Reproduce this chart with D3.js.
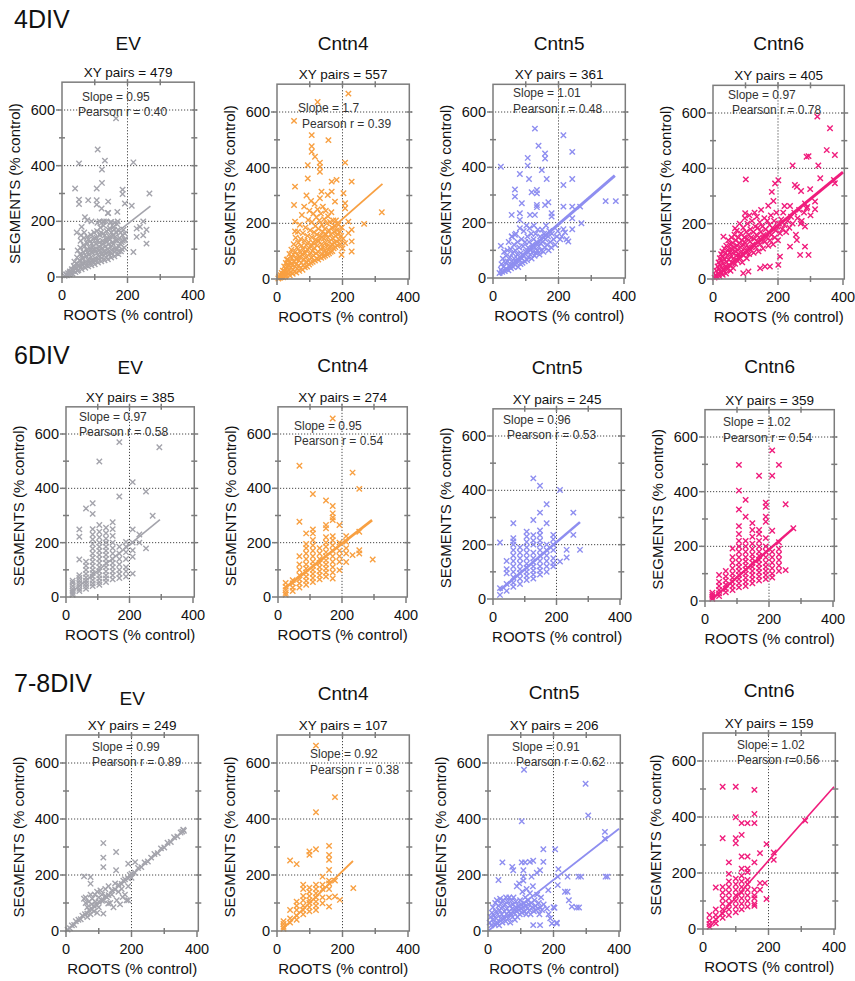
<!DOCTYPE html>
<html>
<head>
<meta charset="utf-8">
<script src="https://cdn.jsdelivr.net/npm/d3@7"></script>
<style>
  body { margin: 0; background: #fff; }
  svg { display: block; }
  text { font-family: "Liberation Sans", Arial, sans-serif; }
</style>
</head>
<body>
<svg id="chart" width="855" height="981"></svg>
<script>
// ---- labels and stats ----
var rowLabels = ["4DIV", "6DIV", "7-8DIV"];
var groups = ["EV", "Cntn4", "Cntn5", "Cntn6"];
var pairs = [[479, 557, 361, 405], [385, 274, 245, 359], [249, 107, 206, 159]];
var slopes = [["Slope = 0.95", "Slope = 1.7", "Slope = 1.01", "Slope = 0.97"],
              ["Slope = 0.97", "Slope = 0.95", "Slope =  0.96", "Slope = 1.02"],
              ["Slope = 0.99", "Slope = 0.92", "Slope = 0.91", "Slope = 1.02"]];
var pearsons = [["Pearson r = 0.40", "Pearson r = 0.39", "Pearson r = 0.48", "Pearson r = 0.78"],
                ["Pearson r = 0.58", "Pearson r = 0.54", "Pearson r = 0.53", "Pearson r = 0.54"],
                ["Pearson r = 0.89", "Pearson r = 0.38", "Pearson r = 0.62", "Pearson r=0.56"]];
var xTicks = [0, 200, 400];
var yTicks = [0, 200, 400, 600];

// fitted lines [x1, y1, x2, y2]
var fits = [[[15, 20, 270, 255], [10, 20, 322, 342], [20, 10, 372, 370], [10, 10, 400, 386]],
            [[20, 20, 296, 285], [20, 31, 294, 283], [20, 30, 274, 283], [20, 5, 276, 266]],
            [[0, 0, 362, 360], [15, 5, 232, 250], [0, 0, 400, 365], [15, 0, 400, 508]]];

// ---- 4DIV points [roots, segments] ----
var ev4 = [[8,4],[12,9],[15,6],[18,14],[22,10],[24,20],[27,15],[30,28],[32,12],[35,22],[36,40],[38,55],[41,18],[43,30],[45,48],[46,70],[48,95],[50,25],[52,38],[53,60],[55,82],[56,105],[57,130],[58,150],[60,28],[62,45],[63,68],[65,90],[66,115],[67,140],[68,160],[71,33],[72,52],[74,75],[75,98],[76,122],[78,145],[80,38],[82,58],[83,80],[85,105],[86,128],[88,152],[90,42],[92,62],[93,86],[95,110],[96,135],[98,160],[100,46],[101,68],[103,92],[104,118],[105,142],[107,165],[108,195],[110,52],[112,74],[113,98],[115,125],[116,150],[117,178],[120,56],[121,80],[123,104],[124,130],[125,155],[127,185],[128,200],[130,60],[132,84],[133,110],[135,138],[136,165],[140,64],[141,90],[143,118],[145,145],[146,175],[148,195],[150,70],[152,96],[154,125],[155,150],[157,180],[160,74],[162,102],[164,132],[166,160],[168,190],[172,82],[174,110],[176,140],[180,92],[182,125],[185,150],[190,105],[192,135],
  [14,9],[26,12],[33,26],[39,35],[47,22],[51,44],[59,36],[61,78],[64,52],[69,110],[73,42],[77,88],[79,62],[81,135],[84,48],[87,96],[89,72],[91,120],[94,54],[97,100],[99,140],[102,58],[106,86],[109,130],[111,64],[114,108],[118,90],[119,160],[122,68],[126,118],[129,94],[131,150],[134,72],[138,126],[139,100],[142,170],[144,80],[147,135],[149,108],[151,160],[153,84],[156,118],[159,170],[161,90],[163,145],[167,100],[169,130],[171,170],[173,92],[177,120],[179,160],[183,100],[186,130],[188,170],
  [115,200],[125,198],[135,200],[150,198],[160,195],[170,200],[140,230],[70,215],[90,200],[60,180],[45,160],
  [165,570],[109,458],[52,408],[131,418],[122,386],[122,338],[218,412],[267,300],[185,314],[185,298],[106,318],[40,318],[52,278],[52,262],[80,276],[106,276],[106,260],[141,271],[121,246],[141,230],[169,234],[192,264],[213,256],[248,200],[238,180],[228,174],[258,170],[248,150],[258,120],[218,90],[228,144],[192,156],[192,132],[77,204]];

var c4_4 = [[4,2],[6,8],[9,4],[11,14],[13,7],[14,22],[16,11],[18,30],[19,6],[21,17],[22,45],[23,26],[25,9],[26,36],[27,58],[29,14],[30,25],[31,44],[33,70],[34,18],[35,52],[37,31],[38,90],[39,13],[40,63],[42,40],[43,24],[44,105],[45,76],[47,50],[48,19],[49,34],[50,88],[51,125],[52,62],[54,28],[55,44],[56,98],[57,148],[58,72],[59,23],[60,55],[61,113],[62,37],[63,85],[64,170],[65,130],[66,48],[67,67],[68,29],[69,100],[70,195],[71,78],[72,144],[73,40],[74,58],[75,120],[76,230],[77,88],[78,33],[79,165],[80,50],[81,107],[82,72],[83,260],[84,138],[85,42],[86,93],[87,185],[88,60],[89,122],[90,300],[91,80],[92,45],[93,155],[94,105],[95,212],[96,66],[97,132],[98,52],[99,245],[100,90],[101,175],[102,118],[103,58],[104,280],[105,76],[106,150],[107,205],[108,100],[109,62],[110,130],[111,235],[112,84],[113,168],[114,112],[115,270],[116,66],[117,190],[118,142],[119,92],[120,222],[121,74],[122,160],[123,120],[124,250],[125,98],[126,70],[127,180],[128,136],[129,210],[130,82],[131,290],[132,155],[133,108],[134,235],[135,76],[136,125],[137,195],[138,90],[139,170],[140,260],[141,112],[142,80],[143,145],[144,215],[145,100],[146,180],[147,84],[148,130],[149,245],[150,160],[151,95],[152,200],[153,118],[154,88],[155,150],[156,225],[157,105],[158,175],[159,92],[160,135],[162,205],[163,115],[164,98],[165,160],[166,240],[167,125],[168,185],[169,100],[170,145],[172,210],[173,110],[174,170],[175,130],[177,190],[178,115],[179,155],[180,210],[182,135],[183,175],[185,120],[186,160],[188,195],[190,140],[192,170],[194,125],[196,155],[198,185],[200,110],[202,145],
  [218,666],[124,636],[52,568],[106,517],[106,477],[106,457],[157,499],[116,439],[131,418],[131,403],[208,418],[94,409],[228,350],[182,356],[131,385],[94,361],[55,332],[167,350],[167,314],[136,314],[203,308],[208,272],[208,254],[177,278],[155,302],[320,240],[266,198],[218,206],[228,177],[228,135],[228,99],[218,165],[208,129],[197,87],[52,266],[55,206],[55,171],[30,69]];

var c5_4 = [[20,18],[24,30],[26,50],[28,22],[30,70],[32,40],[34,95],[36,25],[38,55],[40,80],[42,32],[44,100],[45,60],[47,28],[48,130],[50,45],[52,75],[54,105],[55,35],[57,60],[58,150],[60,90],[62,40],[64,120],[65,70],[67,48],[68,100],[70,160],[72,55],[74,85],[75,130],[77,40],[78,65],[80,110],[82,180],[84,50],[85,90],[87,140],[88,70],[90,55],[92,115],[94,170],[95,80],[97,60],[98,130],[100,95],[102,190],[104,65],[105,150],[107,110],[108,75],[110,130],[112,180],[114,85],[115,100],[117,160],[118,70],[120,120],[122,95],[124,140],[125,190],[127,80],[128,110],[130,160],[132,90],[134,130],[135,100],[137,175],[140,115],[142,85],[144,150],[145,125],[147,100],[150,175],[152,130],[154,95],[156,160],[158,110],[160,140],[162,190],[165,120],[168,150],[170,100],[172,170],[175,130],[178,110],[180,160],[185,140],[190,120],[195,150],[198,170],[205,140],[210,150],[220,165],[225,140],
  [128,540],[215,516],[139,478],[242,456],[24,402],[159,450],[159,432],[106,434],[106,406],[149,390],[82,376],[110,358],[164,358],[242,358],[215,336],[67,320],[67,294],[118,310],[134,318],[134,306],[88,270],[134,264],[134,256],[159,264],[169,274],[215,258],[242,258],[266,258],[344,278],[375,278],[242,216],[270,198],[215,176],[242,176],[230,132],[24,116],[57,228],[82,234],[113,228],[128,228],[179,234],[179,222],[82,210],[57,150],[67,156]];

var c6_4 = [[5,5],[8,15],[10,30],[12,8],[14,45],[15,20],[17,60],[18,35],[20,10],[21,75],[22,50],[24,25],[25,90],[26,65],[28,40],[29,100],[30,15],[31,80],[32,55],[34,30],[35,110],[36,70],[38,45],[39,95],[40,20],[41,120],[42,60],[44,85],[45,35],[46,105],[47,140],[48,70],[50,50],[51,95],[52,125],[54,30],[55,80],[56,110],[57,150],[58,60],[60,95],[61,130],[62,40],[64,75],[65,115],[66,160],[68,55],[69,100],[70,140],[72,85],[73,175],[74,120],[76,65],[77,105],[78,150],[80,90],[81,130],[82,200],[84,75],[85,115],[86,165],[88,100],[89,140],[90,60],[92,125],[93,185],[94,85],[96,150],[97,110],[98,220],[100,130],[101,95],[102,170],[104,75],[105,145],[106,200],[108,115],[110,160],[111,90],[112,230],[114,135],[115,180],[117,105],[118,150],[120,210],[122,125],[124,170],[125,95],[127,145],[128,240],[130,190],[132,115],[134,160],[135,225],[137,135],[138,185],[140,100],[142,150],[144,205],[145,125],[147,170],[148,250],[150,140],[152,190],[154,110],[156,160],[158,220],[160,135],[162,180],[165,150],[167,210],[170,120],[172,170],[174,195],[176,140],[178,230],[180,160],[183,185],[185,125],[188,210],[190,150],[193,175],[195,240],[198,190],[200,140],[203,200],[206,165],[210,215],[213,180],[216,240],[220,195],[225,170],[230,210],[235,185],[240,225],[245,200],[250,240],[255,160],[260,220],[265,250],[270,200],[280,240],[290,260],[300,230],
  [321,587],[360,545],[350,466],[375,448],[288,442],[294,444],[324,410],[245,410],[330,364],[299,325],[372,358],[375,346],[101,360],[201,357],[191,345],[181,315],[186,282],[170,265],[252,340],[258,333],[271,318],[314,280],[283,273],[288,255],[314,252],[220,264],[237,264],[273,210],[283,190],[258,141],[237,117],[268,87],[294,87],[283,117],[206,81],[201,51],[160,45],[175,45],[145,39],[109,27],[93,21],[32,153],[99,238],[68,183]];

// ---- 6DIV points, by root column [roots, [segments...]] ----
var ev6 = [[21,[8,15,22,30,40,52,60]],[42,[22,30,40,50,60,70,80,138,222,249]],[63,[30,40,50,60,72,85,100,115,130,326]],[84,[40,50,62,75,88,100,115,130,145,160,178,195,212,230,250,306,345]],[105,[45,55,68,80,95,110,125,140,155,170,185,200,220,240,265,499]],[126,[55,68,80,95,110,125,140,155,170,185,200,215,235,255]],[147,[65,80,95,110,125,140,160,180,200,225,250,275]],[168,[70,85,100,120,140,160,185,370,570]],[189,[75,95,110,140,165,185,203]],[210,[86,148,172,200,249,423]],[231,[200,230]],[252,[179,388]],[273,[299]],[294,[551]]];
var c4_6 = [[24,[8,15,25,38,52]],[46,[22,35,50,62]],[67,[35,50,65,80,100,120,150,277,483]],[88,[45,60,75,90,105,120,140,160,180,195,234]],[109,[55,70,85,100,115,130,150,170,190,210,234,249,379]],[130,[65,80,95,110,125,140,160,180]],[150,[75,90,105,120,135,150,165,185,200,220,253,265,355]],[171,[68,90,110,130,150,170,190,209,224,283,293,308,335,657]],[192,[99,130,150,170,200,265]],[213,[129,160,180,203,224]],[233,[154,458]],[254,[160,172,240,398]],[296,[138]]];
var c5_6 = [[22,[15,40,208]],[43,[30,55,95,110,140]],[64,[45,60,80,100,120,140,160,180,200,212,224,279]],[85,[55,75,95,110,130,150,170,190]],[106,[70,85,100,115,130,150,170,190,210,230,248]],[127,[75,90,105,120,135,150,170,200,215,235,291,444]],[148,[90,105,120,140,160,180,200,215,235,252,318,417]],[169,[100,120,140,160,180,200,279,349]],[190,[120,132,150,180,200,220,236]],[211,[138,401]],[232,[153,181]],[253,[236,318]],[274,[181]]];
var c6_6 = [[23,[8,15,22,30]],[44,[18,28,40,55,70,95]],[65,[32,45,60,75,90,110]],[86,[40,55,70,85,100,120,140,160,192]],[106,[50,65,80,95,110,125,140,160,180,200,220,245,274,335,404,498]],[127,[55,70,85,100,115,130,145,160,180,200,220,308,370]],[148,[65,80,95,110,125,140,155,170,190,210,235,260,285]],[169,[75,90,105,120,135,150,165,180,200,220,245,260,458]],[190,[80,95,110,125,140,160,180,200,230,290,308,345,360]],[210,[86,100,120,140,160,180,257,458,551]],[231,[110,130,150,170,190,215,498]],[252,[113,354]],[276,[266]]];

// ---- 7-8DIV points ----
var ev78 = [[5,5],[12,10],[18,20],[25,22],[30,35],[38,40],[45,42],[50,55],[58,60],[65,62],[70,75],[80,78],[85,90],[95,92],[100,105],[110,108],[120,125],[130,128],[140,145],[150,148],[160,165],[170,168],[180,185],[190,188],[200,205],[210,208],[220,225],[230,228],[240,245],[250,248],[260,262],[270,275],[280,278],[290,295],[300,298],[310,315],[320,318],[330,335],[340,338],[350,352],[355,355],[360,358],[358,362],
  [55,115],[60,100],[60,120],[65,85],[70,105],[75,130],[78,95],[80,115],[85,70],[88,130],[90,105],[95,140],[100,120],[100,85],[105,145],[110,130],[115,110],[120,150],[125,120],[130,160],[135,100],[140,130],[145,85],[150,170],[155,110],[160,140],[165,95],[170,150],[175,180],[180,130],[185,110],[190,160],[195,200],[200,190],[75,60],[65,50],[95,65],
  [114,314],[114,262],[114,228],[153,282],[153,217],[55,195],[75,193],[75,169],[190,240],[211,246],[190,110],[173,121],[114,62],[129,98]];
var c4_78 = [[20,[8,15,25,35]],[40,[30,45,75,252]],[60,[40,55,75,90,105,239]],[80,[60,75,90,110,125,150,165]],[99,[70,85,100,110,125,140,155,272,284]],[119,[75,90,105,120,135,150,165,292,424,662]],[139,[99,120,150,165,194]],[159,[87,120,150,170,180,218,254,272,304]],[177,[123,180,478]],[192,[111]],[233,[153]]];
var c5_78 = [[5,30],[8,50],[10,20],[12,65],[14,40],[15,85],[18,55],[20,25],[22,100],[24,70],[25,45],[27,110],[28,30],[30,60],[32,90],[34,20],[35,75],[37,115],[38,45],[40,100],[42,60],[44,30],[45,85],[47,110],[48,50],[50,70],[52,95],[54,35],[55,120],[57,60],[58,80],[60,105],[62,45],[64,70],[65,120],[67,90],[68,30],[70,60],[72,110],[74,80],[75,50],[77,95],[78,120],[80,65],[82,40],[84,85],[85,105],[87,70],[88,160],[90,50],[92,90],[94,75],[95,170],[97,60],[98,110],[100,80],[102,95],[104,65],[105,140],[107,85],[108,180],[110,100],[112,70],[114,120],[115,90],[117,60],[118,150],[120,80],[122,110],[125,95],[127,75],[128,135],[130,60],[132,100],[135,85],[137,160],[140,70],[142,110],[145,90],[147,75],[150,130],[152,80],[155,100],[157,60],[160,85],[162,120],[165,75],[170,95],[180,80],[185,60],[190,45],[200,85],[210,30],
  [110,576],[298,526],[306,413],[103,392],[357,354],[357,330],[365,194],[359,194],[276,194],[284,194],[243,194],[213,194],[205,292],[169,292],[169,247],[44,245],[103,245],[113,245],[128,247],[138,251],[74,229],[77,217],[159,217],[108,217],[32,182],[108,194],[133,194],[149,208],[215,221],[235,140],[243,140],[247,110],[256,87],[271,84],[278,84],[203,83],[213,164],[184,146],[195,27],[210,27],[159,21],[138,21]];
var c6_78 = [[20,[8,18,30,50]],[39,[20,35,50,70,148]],[60,[40,55,70,90,110,130,150,324,508]],[79,[50,70,90,110,130,150,170,197,238]],[100,[60,80,100,120,140,160,180,306,324,399,508]],[118,[70,90,110,130,150,170,190,215,259,336,378]],[136,[80,100,120,140,160,175,203,215,259,378]],[157,[83,90,110,120,140,238,378,411,497]],[174,[140,164,271]],[189,[164]],[194,[107,303]],[216,[247,273]],[312,[387]]];

function fromColumns(cols) {
  var out = [];
  cols.forEach(function(c) { c[1].forEach(function(v) { out.push([c[0], v]); }); });
  return out;
}

var points = [[ev4, c4_4, c5_4, c6_4],
              [fromColumns(ev6), fromColumns(c4_6), fromColumns(c5_6), fromColumns(c6_6)],
              [ev78, fromColumns(c4_78), c5_78, fromColumns(c6_78)]];

// ---- layout (pixels) ----
var colors = ["#a4a4ac", "#f8a042", "#8e8ef0", "#f01c7c"];
// [x of 0, x of 400, y of 0, y of 600]
var boxes = [[[62, 193, 277, 110], [277, 408, 279, 112], [493, 624, 278, 112], [713, 843, 279, 113]],
             [[66, 193, 597, 434], [278, 406, 597, 434], [493, 620, 599, 436], [705, 833, 601, 437]],
             [[66, 197, 931, 763], [277, 408, 931, 763], [488, 619, 931, 763], [703, 834, 929, 761]]];
var titleY = [[50, 50, 50, 50], [374, 372, 374, 373], [705, 700, 699, 697]];
var rowLabelY = [28, 364, 692];
// [slope dx, slope dy, pearson dx, pearson dy] from the box top-left
var noteOffsets = [[[20, 19, 16, 34], [21, 28, 25, 44], [20, 13, 20, 29], [15, 14, 19, 29]],
                   [[13, 14, 13, 29], [16, 23, 16, 38], [10, 15, 14, 30], [18, 16, 18, 32]],
                   [[26, 16, 26, 31], [33, 23, 33, 39], [24, 16, 28, 31], [34, 16, 34, 31]]];
var fitWidth = [[1.6, 1.8, 3, 3], [1.6, 2.6, 2.6, 2.4], [1.6, 1.8, 1.8, 1.6]];

var svg = d3.select("#chart");

rowLabels.forEach(function(lab, r) {
  svg.append("text").attr("x", 14).attr("y", rowLabelY[r])
     .attr("font-size", 25).attr("fill", "#111").text(lab);
});

function crossPath(a) {
  return "M" + (-a) + "," + (-a) + "L" + a + "," + a + "M" + (-a) + "," + a + "L" + a + "," + (-a);
}

for (var r = 0; r < 3; r++) {
  for (var c = 0; c < 4; c++) drawPanel(r, c);
}

function drawPanel(r, c) {
  var b = boxes[r][c];
  var x = d3.scaleLinear().domain([0, 400]).range([b[0], b[1]]);
  var y = d3.scaleLinear().domain([0, 600]).range([b[2], b[3]]);
  var g = svg.append("g");
  var left = x(0), right = x(404), top = y(700), bottom = y(0);
  var mid = (left + right) / 2;

  // titles
  g.append("text").attr("x", mid).attr("y", titleY[r][c]).attr("text-anchor", "middle")
   .attr("font-size", 19).attr("fill", "#111").text(groups[c]);
  g.append("text").attr("x", mid).attr("y", top - 5).attr("text-anchor", "middle")
   .attr("font-size", 13.5).attr("fill", "#111").text("XY pairs = " + pairs[r][c]);

  // dotted grid
  var grid = g.append("g").attr("stroke", "#333").attr("stroke-width", 0.9)
      .attr("stroke-dasharray", "1.2,1.8");
  grid.append("line").attr("x1", x(200)).attr("x2", x(200)).attr("y1", top - 3).attr("y2", bottom);
  [200, 400, 600].forEach(function(v) {
    grid.append("line").attr("x1", left - 4).attr("x2", right + 4).attr("y1", y(v)).attr("y2", y(v));
  });

  // points
  g.append("g").selectAll("path").data(points[r][c]).enter().append("path")
   .attr("transform", function(d) { return "translate(" + x(d[0]) + "," + y(d[1]) + ")"; })
   .attr("d", crossPath(2.7))
   .attr("stroke", colors[c]).attr("stroke-width", 1.4).attr("fill", "none");

  // regression line
  var f = fits[r][c];
  g.append("line").attr("x1", x(f[0])).attr("y1", y(f[1])).attr("x2", x(f[2])).attr("y2", y(f[3]))
   .attr("stroke", colors[c]).attr("stroke-width", fitWidth[r][c]);

  // frame and ticks
  var frame = g.append("g").attr("stroke", "#7c7c7c").attr("stroke-width", 1.5);
  frame.append("rect").attr("x", left).attr("y", top).attr("width", right - left)
       .attr("height", bottom - top).attr("fill", "none");
  yTicks.forEach(function(v) {
    frame.append("line").attr("x1", left - 6).attr("x2", left).attr("y1", y(v)).attr("y2", y(v));
  });
  xTicks.forEach(function(v) {
    frame.append("line").attr("x1", x(v)).attr("x2", x(v)).attr("y1", bottom).attr("y2", bottom + 6);
  });
  [100, 300, 500].forEach(function(v) {
    frame.append("line").attr("x1", left - 3).attr("x2", left + 3).attr("y1", y(v)).attr("y2", y(v));
  });
  [100, 200, 300, 400, 500, 600].forEach(function(v) {
    frame.append("line").attr("x1", right - 3).attr("x2", right + 3).attr("y1", y(v)).attr("y2", y(v));
  });
  [100, 300].forEach(function(v) {
    frame.append("line").attr("x1", x(v)).attr("x2", x(v)).attr("y1", bottom - 3).attr("y2", bottom + 3);
  });
  [100, 200, 300].forEach(function(v) {
    frame.append("line").attr("x1", x(v)).attr("x2", x(v)).attr("y1", top - 3).attr("y2", top + 3);
  });

  // tick labels
  xTicks.forEach(function(v) {
    g.append("text").attr("x", x(v)).attr("y", bottom + 23).attr("text-anchor", "middle")
     .attr("font-size", 14.5).attr("fill", "#111").text(v);
  });
  yTicks.forEach(function(v) {
    g.append("text").attr("x", left - 7).attr("y", y(v) + 5).attr("text-anchor", "end")
     .attr("font-size", 14.5).attr("fill", "#111").text(v);
  });

  // axis titles
  g.append("text").attr("x", mid).attr("y", bottom + 43).attr("text-anchor", "middle")
   .attr("font-size", 15).attr("fill", "#111").text("ROOTS (% control)");
  g.append("text").attr("transform", "translate(" + (left - 42) + "," + ((top + bottom) / 2 + 4) + ") rotate(-90)")
   .attr("text-anchor", "middle").attr("font-size", 15).attr("fill", "#111").text("SEGMENTS (% control)");

  // notes
  var o = noteOffsets[r][c];
  g.append("text").attr("x", left + o[0]).attr("y", top + o[1])
   .attr("font-size", 12).attr("fill", "#333").text(slopes[r][c]);
  g.append("text").attr("x", left + o[2]).attr("y", top + o[3])
   .attr("font-size", 12).attr("fill", "#333").text(pearsons[r][c]);
}
</script>
</body>
</html>
